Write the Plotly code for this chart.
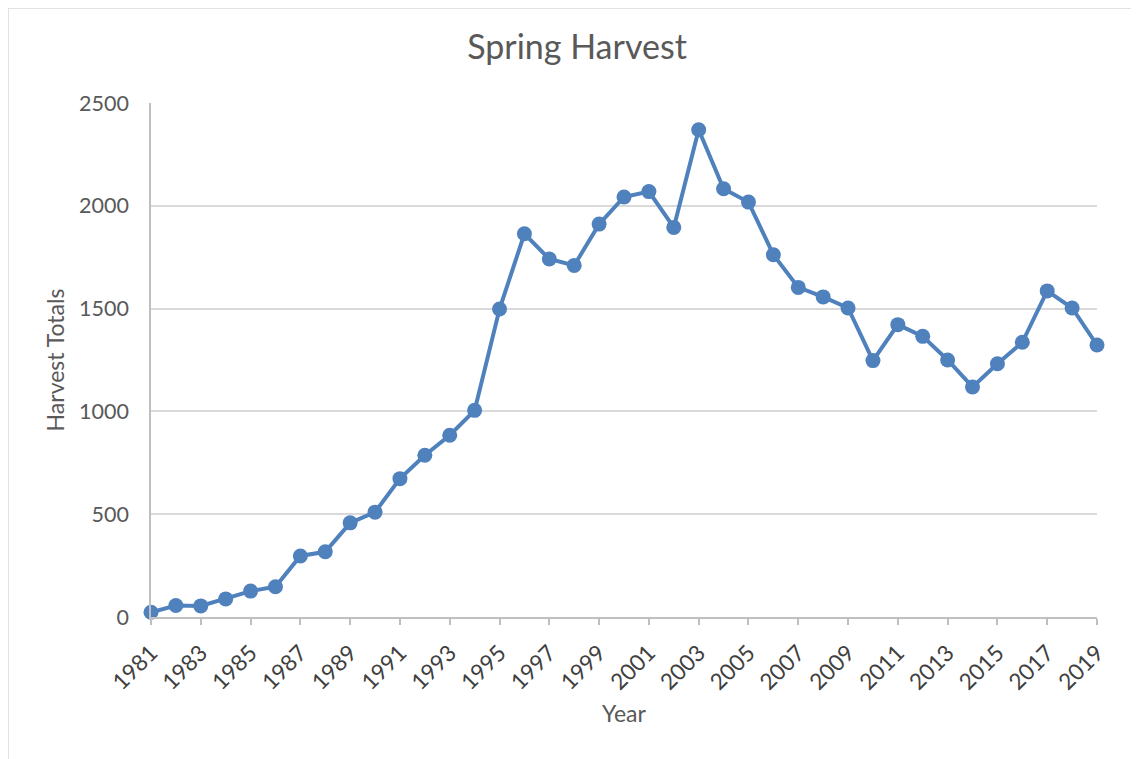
import plotly.graph_objects as go

years = list(range(1981, 2020))
harvest = [23, 56, 54, 88, 126, 147, 297, 317, 458, 510,
           673, 787, 884, 1005, 1498, 1864, 1741, 1710, 1911, 2043,
           2069, 1895, 2370, 2083, 2018, 1762, 1603, 1557, 1503, 1247,
           1422, 1365, 1250, 1119, 1232, 1336, 1586, 1503, 1323]
tick_years = list(range(1981, 2020, 2))
y_ticks = [0, 500, 1000, 1500, 2000, 2500]

# page body has an 8px margin; compensate
OFF = 8
W, H = 1139 - OFF, 759 - OFF
L, R, T = 151 - OFF, 42, 103 - OFF
pw = W - L - R
ph = 514
B = H - T - ph

font_fam = "Lato, Carlito, 'Open Sans', sans-serif"
grey = "#595959"

fig = go.Figure()
fig.add_trace(go.Scatter(
    x=years, y=harvest, mode="lines+markers",
    line=dict(color="#4F81BD", width=4),
    marker=dict(color="#4F81BD", size=15),
    cliponaxis=False, showlegend=False,
))

fig.update_layout(
    width=W, height=H,
    margin=dict(l=L, r=R, t=T, b=B, pad=0),
    paper_bgcolor="white", plot_bgcolor="white",
    font=dict(family=font_fam, color=grey, size=21),
    title=dict(text="Spring Harvest", x=(577 - OFF) / W, xref="container", xanchor="center",
               y=1 - (47 - OFF) / H, yref="container", yanchor="middle",
               font=dict(size=34, color=grey, family=font_fam)),
    xaxis=dict(
        range=[1981, 2019], tickmode="array", tickvals=tick_years,
        ticktext=[str(y) for y in tick_years], tickangle=-45,
        showgrid=False, zeroline=False,
        showline=True, linecolor="#BFBFBF", linewidth=1.5,
        ticks="outside", ticklen=6, tickcolor="#BFBFBF", tickwidth=1.5,
        ticklabelstandoff=6,
        tickfont=dict(size=22.5, color="#404040"),
        title=dict(text="Year", font=dict(size=23, color=grey), standoff=12),
    ),
    yaxis=dict(
        range=[0, 2500], tickmode="array", tickvals=y_ticks,
        showgrid=True, gridcolor="#D9D9D9", gridwidth=1.5,
        zeroline=False, showline=True, linecolor="#BFBFBF", linewidth=1.5,
        ticks="", ticklabelstandoff=16,
        tickfont=dict(size=21.5, color=grey),
        title=dict(text="Harvest Totals", font=dict(size=23, color=grey), standoff=8),
    ),
    shapes=[dict(type="rect", xref="paper", yref="paper",
                 x0=(0 - L) / pw, x1=(W + 10 - L) / pw,
                 y0=-(B + 10) / ph, y1=(H - B - 0) / ph,
                 line=dict(color="#D9D9D9", width=1.5), fillcolor="rgba(0,0,0,0)",
                 layer="below")],
)

fig.write_html("out.html")
